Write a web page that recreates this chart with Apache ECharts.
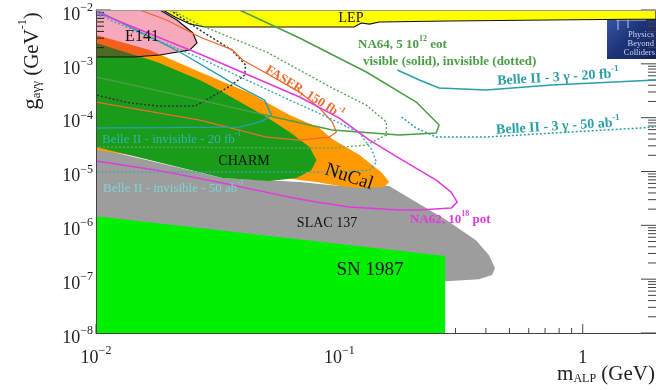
<!DOCTYPE html>
<html><head><meta charset="utf-8">
<script src="https://cdn.jsdelivr.net/npm/echarts@6/dist/echarts.min.js"></script>
<style>html,body{margin:0;padding:0;background:#fff}#c{width:656px;height:390px}</style>
</head><body><div id="c"></div>
<script>
// ---- axis ticks ----
const xMajorTicks = [0.01, 0.1, 1];
const xMinorTicks = [0.02,0.03,0.04,0.05,0.06,0.07,0.08,0.09,0.2,0.3,0.4,0.5,0.6,0.7,0.8,0.9];
const yMajorTicks = [1e-8,1e-7,1e-6,1e-5,1e-4,1e-3,1e-2];
const yMinorMultipliers = [2,3,4,5,6,7,8,9];
const yDecades = [1e-8,1e-7,1e-6,1e-5,1e-4,1e-3];

// ---- filled regions [m_ALP (GeV), g (GeV^-1)] ----
const slac137 = [[0.01,2.72e-5],[0.0331,7.54e-6],[0.0686,6.35e-6],[0.1,5.35e-6],[0.16,5.35e-6],[0.2,2.94e-6],[0.275,1.25e-6],[0.364,5.31e-7],[0.412,2.79e-7],[0.436,1.6e-7],[0.424,1.19e-7],[0.375,1.0e-7],[0.275,9.18e-8],[0.26,9.2e-8],[0.01,9.2e-8]];
const sn1987 = [[0.01,1.48e-6],[0.272,2.68e-7],[0.272,1e-8],[0.01,1e-8]];
const nucal = [[0.01,3.43e-3],[0.0166,1.81e-3],[0.0267,7.05e-4],[0.0428,2.87e-4],[0.0624,1.12e-4],[0.0828,6.41e-5],[0.0935,4.0e-5],[0.121,2.02e-5],[0.15,9.34e-6],[0.16,6.35e-6],[0.153,5.13e-6],[0.121,4.91e-6],[0.1,5.35e-6],[0.0805,6.35e-6],[0.0686,6.92e-6],[0.0267,1.32e-5],[0.01,2.5e-5]];
const charm = [[0.01,2.44e-3],[0.0178,1.08e-3],[0.0267,5.0e-4],[0.0331,2.99e-4],[0.0502,1.03e-4],[0.0624,5.4e-5],[0.0754,2.84e-5],[0.0805,1.63e-5],[0.0767,1.06e-5],[0.0667,7.54e-6],[0.0516,6.63e-6],[0.0331,7.54e-6],[0.0166,1.63e-5],[0.01,2.84e-5]];
const e141 = [[0.01,1e-2],[0.0183,1e-2],[0.0215,6.52e-3],[0.025,3.74e-3],[0.026,2.44e-3],[0.0243,1.81e-3],[0.0183,1.46e-3],[0.0142,1.34e-3],[0.01,1.34e-3]];
const lep = [[0.0188,1e-2],[2,1e-2],[2,6.81e-3],[0.726,6.52e-3],[0.282,6.25e-3],[0.146,5.98e-3],[0.133,5.49e-3],[0.123,5.73e-3],[0.115,4.83e-3],[0.028,4.83e-3],[0.0243,5.49e-3],[0.0211,7.41e-3],[0.0188,1e-2]];

// ---- projection curves ----
const na62 = [[0.01,9.18e-3],[0.0267,1.52e-3],[0.0686,2.42e-4],[0.1,9.84e-5],[0.133,3.84e-5],[0.176,1.77e-5],[0.25,6.92e-6],[0.288,4.14e-6],[0.305,2.7e-6],[0.288,2.09e-6],[0.213,1.92e-6],[0.176,1.92e-6],[0.11,2.18e-6],[0.0805,2.7e-6],[0.0624,3.34e-6],[0.0331,6.09e-6],[0.0178,1.06e-5],[0.01,1.56e-5]];
const belleInv20 = [[0.01,1e-2],[0.0221,1.66e-3],[0.0364,4.4e-4],[0.0493,2.12e-4],[0.0526,1.12e-4],[0.0483,8.65e-5],[0.0389,6.68e-5],[0.01,6.41e-5]];
const belleInv50 = [[0.01,8.43e-3],[0.0267,1.28e-3],[0.0624,2.12e-4],[0.091,9.84e-5],[0.121,5.17e-5],[0.136,2.5e-5],[0.142,1.5e-5],[0.133,1.06e-5],[0.1,9.75e-6],[0.01,9.75e-6]];
const na64Visible = [[0.0389,1e-2],[0.0686,3.02e-3],[0.129,7.05e-4],[0.207,1.95e-4],[0.257,7.28e-5],[0.25,5.17e-5],[0.176,4.75e-5],[0.0935,5.88e-5],[0.0516,1.07e-4],[0.0267,2.12e-4],[0.01,5.68e-4]];
const na64Invisible = [[0.0205,1e-2],[0.0267,5.26e-3],[0.0502,1.66e-3],[0.0935,3.55e-4],[0.129,1.71e-4],[0.156,8.28e-5],[0.156,4.75e-5],[0.129,3.1e-5],[0.0935,2.72e-5],[0.01,2.84e-5]];
const faser = [[0.0151,1e-2],[0.0195,6.52e-3],[0.0267,3.15e-3],[0.0364,1.81e-3],[0.04,1.18e-3],[0.0516,6.19e-4],[0.0686,2.99e-4],[0.0828,1.51e-4],[0.0935,8.28e-5],[0.0972,5.4e-5],[0.091,4.36e-5],[0.0686,3.84e-5],[0.0502,4.36e-5],[0.0267,9.02e-5],[0.01,1.95e-4]];
const e137Dotted = [[0.0201,1e-2],[0.0267,4.25e-3],[0.0361,1.81e-3],[0.0412,9.5e-4],[0.0408,6.19e-4],[0.0361,4.04e-4],[0.0293,2.31e-4],[0.0255,1.64e-4],[0.0183,1.64e-4],[0.0138,1.87e-4],[0.01,2.63e-4]];
const belle3g20 = [[0.173,7.67e-4],[0.213,5.0e-4],[0.257,3.55e-4],[0.4,3.26e-4],[0.746,4.04e-4],[2,5.0e-4]];
const belle3g50 = [[0.18,1.03e-4],[0.207,6.41e-5],[0.25,4.36e-5],[0.4,4.36e-5],[0.746,5.17e-5],[2,6.68e-5]];

const SERIF = 'Liberation Serif';
const chart = echarts.init(document.getElementById('c'), null, {renderer:'canvas'});

function polySeries(name, pts, style, z){
  return {type:'custom', name, coordinateSystem:'cartesian2d', xAxisIndex:0, yAxisIndex:0, clip:true, silent:true, z,
    data:[pts[0]],
    renderItem:function(params, api){
      return {type:'polygon', shape:{points: pts.map(p=>api.coord(p))}, style: Object.assign({}, style)};
    }};
}
function lineSeries(name, pts, style, z){
  return {type:'custom', name, coordinateSystem:'cartesian2d', xAxisIndex:0, yAxisIndex:0, clip:true, silent:true, z,
    data:[pts[0]],
    renderItem:function(params, api){
      return {type:'polyline', shape:{points: pts.map(p=>api.coord(p))}, style: Object.assign({fill:null, lineJoin:'round'}, style)};
    }};
}
function tickLines(api, color){
  const ch = [];
  const add=(a,dx,dy)=>ch.push({type:'line', shape:{x1:a[0],y1:a[1],x2:a[0]+dx,y2:a[1]+dy}, style:{stroke:color, lineWidth:1}});
  xMajorTicks.forEach(v=>add(api.coord([v,1e-8]),0,-9));
  xMinorTicks.forEach(v=>add(api.coord([v,1e-8]),0,-5));
  yMajorTicks.forEach(v=>{add(api.coord([0.01,v]),15,0); add(api.coord([2,v]),-15,0);});
  yDecades.forEach(d=>yMinorMultipliers.forEach(k=>{const v=d*k; add(api.coord([0.01,v]),8,0); add(api.coord([2,v]),-8,0);}));
  return ch;
}
const tickSeries = {type:'custom', name:'ticks', coordinateSystem:'cartesian2d', xAxisIndex:0, yAxisIndex:0, clip:false, silent:true, z:1,
  data:[[0.1,1e-5]],
  renderItem:function(params, api){ return {type:'group', children:tickLines(api,'#444')}; }};

// E141 overlaps (E141 is drawn as a multiplying overlay in the original)
const e141Overlap = {type:'custom', name:'E141 overlap', coordinateSystem:'cartesian2d', xAxisIndex:0, yAxisIndex:0, clip:true, silent:true, z:6,
  data:[e141[0]],
  renderItem:function(params, api){
    const c = e141.map(p=>api.coord(p));
    const children = [
      {type:'polygon', shape:{points: e141.map(p=>api.coord(p))}, style:{fill:'#f6a9bb'}},
      {type:'polygon', shape:{points: nucal.map(p=>api.coord(p))}, style:{fill:'#f2601c'}},
      {type:'polygon', shape:{points: charm.map(p=>api.coord(p))}, style:{fill:'#4d6a20'}}
    ].concat(tickLines(api,'#222'));
    return {type:'group', children:[
      {type:'group', children, clipPath:{type:'polygon', shape:{points:c}}},
      {type:'polygon', shape:{points:c}, style:{fill:null, stroke:'#111', lineWidth:1.2}}
    ]};
  }};

const labelRich = {
  b:{fontSize:18, fontFamily:SERIF, color:'#222', verticalAlign:'bottom', lineHeight:22},
  s:{fontSize:12, fontFamily:SERIF, color:'#222', verticalAlign:'top', lineHeight:12}
};
function powLabel(v){
  const e = Math.round(Math.log10(v));
  if (e === 0) return '{b|1}';
  return '{b|10}{s|\u2212' + (-e) + '}';
}

const teal = '#2a9fa8';
const na64c = '#4a9e44';

function txt(x,y,text,opt){
  opt = opt||{};
  return {type:'text', x, y, rotation:opt.rot||0, z:30,
    style:{text, fontFamily:SERIF, fontSize:opt.size||14, fill:opt.color||'#111', fontWeight:opt.weight||'normal', align:opt.align||'center', verticalAlign:'middle', rich:opt.rich}};
}
function supRich(color,size,weight){
  return {a:{fontFamily:SERIF, fontSize:size, fill:color, color:color, fontWeight:weight, verticalAlign:'bottom', lineHeight:size+3},
          s:{fontFamily:SERIF, fontSize:Math.round(size*0.65), fill:color, color:color, fontWeight:weight, verticalAlign:'top', lineHeight:Math.round(size*0.65)}};
}

const option = {
  backgroundColor:'#ffffff',
  animation:false,
  grid:{left:96, top:10, width:561.4, height:323, containLabel:false},
  xAxis:[
    {type:'log', logBase:10, min:0.01, max:2, position:'bottom', z:10,
     axisLine:{show:true, lineStyle:{color:'#444', width:1}}, axisTick:{show:false}, splitLine:{show:false}, minorTick:{show:false},
     axisLabel:{show:true, margin:12, showMaxLabel:false, formatter:powLabel, rich:labelRich, fontFamily:SERIF, fontSize:18, color:'#222'}},
    {type:'log', logBase:10, min:0.01, max:2, position:'top', z:10,
     axisLine:{show:true, lineStyle:{color:'#999', width:1}}, axisTick:{show:false}, splitLine:{show:false}, axisLabel:{show:false}}
  ],
  yAxis:[
    {type:'log', logBase:10, min:1e-8, max:1e-2, position:'left', z:10,
     axisLine:{show:true, lineStyle:{color:'#444', width:1}}, axisTick:{show:false}, splitLine:{show:false}, minorTick:{show:false},
     axisLabel:{show:true, margin:3, padding:[6,0,0,0], formatter:powLabel, rich:labelRich, fontFamily:SERIF, fontSize:18, color:'#222'}},
    {type:'log', logBase:10, min:1e-8, max:1e-2, position:'right', z:10,
     axisLine:{show:true, lineStyle:{color:'#666', width:1}}, axisTick:{show:false}, splitLine:{show:false}, axisLabel:{show:false}}
  ],
  series:[
    tickSeries,
    polySeries('SLAC 137', slac137, {fill:'#9d9d9d'}, 2),
    polySeries('SN 1987', sn1987, {fill:'#00f000'}, 3),
    polySeries('NuCal', nucal, {fill:'#ff9a00'}, 4),
    polySeries('CHARM', charm, {fill:'#1a9b1a'}, 5),
    e141Overlap,
    polySeries('LEP', lep, {fill:'#ffff00', stroke:'#111', lineWidth:1.2}, 7),
    lineSeries('E137 dotted', e137Dotted, {stroke:'#333', lineWidth:1.5, lineDash:[2,2]}, 8),
    lineSeries('FASER', faser, {stroke:'#ee6a30', lineWidth:1.3}, 8),
    lineSeries('NA64 visible', na64Visible, {stroke:na64c, lineWidth:1.5}, 8),
    lineSeries('NA64 invisible', na64Invisible, {stroke:'#5aaa55', lineWidth:1.4, lineDash:[2,2]}, 8),
    lineSeries('Belle II inv 20', belleInv20, {stroke:teal, lineWidth:1.4}, 8),
    lineSeries('Belle II inv 50', belleInv50, {stroke:'#3aa8b8', lineWidth:1.4, lineDash:[2,2]}, 8),
    lineSeries('NA62', na62, {stroke:'#e03ae0', lineWidth:1.5}, 9),
    lineSeries('Belle II 3g 20', belle3g20, {stroke:teal, lineWidth:1.5}, 8),
    lineSeries('Belle II 3g 50', belle3g50, {stroke:teal, lineWidth:1.5, lineDash:[2,2]}, 8)
  ],
  graphic:[
    txt(351,18,'LEP',{size:14}),
    txt(142,37,'E141',{size:16}),
    txt(244,161,'CHARM',{size:14}),
    txt(349,177,'NuCal',{size:19, rot:-0.32}),
    txt(327,223,'SLAC 137',{size:14}),
    txt(370,270,'SN 1987',{size:19}),
    txt(410,218,'{a|NA62, 10}{s|18}{a| pot}',{align:'left', rich:supRich('#e03ae0',13,'bold')}),
    txt(305,91,'{a|FASER, 150 fb}{s|-1}',{rot:-0.56, rich:supRich('#ee6a30',13,'bold')}),
    txt(358,43,'{a|NA64, 5 10}{s|12}{a| eot}',{align:'left', rich:supRich(na64c,13,'bold')}),
    txt(363,60,'{a|visible (solid), invisible (dotted)}',{align:'left', rich:supRich(na64c,13,'bold')}),
    txt(558,76,'{a|Belle II - 3 \u03b3 - 20 fb}{s|-1}',{rot:0.06, rich:supRich(teal,14,'bold')}),
    txt(558,125,'{a|Belle II - 3 \u03b3 - 50 ab}{s|-1}',{rot:0.06, rich:supRich(teal,14,'bold')}),
    txt(102,138,'{a|Belle II - invisible - 20 fb}{s|-1}',{align:'left', rich:supRich('#33b3b3',13,'normal')}),
    txt(103,187,'{a|Belle II - invisible - 50 ab}{s|-1}',{align:'left', rich:supRich('#7fd3d8',13,'normal')}),
    // axis titles
    {type:'text', x:30, y:61, rotation:Math.PI/2, z:30,
     style:{text:'{g|g}{sub|a\u03b3\u03b3}{t| (GeV}{sup|-1}{t|)}', align:'center', verticalAlign:'middle',
       rich:{g:{fontFamily:SERIF, fontSize:23, fill:'#222', color:'#222', verticalAlign:'bottom', lineHeight:26},
             sub:{fontFamily:SERIF, fontSize:13, fill:'#222', color:'#222', verticalAlign:'bottom', lineHeight:18},
             t:{fontFamily:SERIF, fontSize:21, fill:'#222', color:'#222', verticalAlign:'bottom', lineHeight:26},
             sup:{fontFamily:SERIF, fontSize:12, fill:'#222', color:'#222', verticalAlign:'top', lineHeight:14}}}},
    {type:'text', x:655, y:373, z:30,
     style:{text:'{m|m}{sub|ALP}{t| (GeV)}', align:'right', verticalAlign:'middle',
       rich:{m:{fontFamily:SERIF, fontSize:21, fill:'#222', color:'#222', verticalAlign:'bottom', lineHeight:24},
             sub:{fontFamily:SERIF, fontSize:12, fill:'#222', color:'#222', verticalAlign:'bottom', lineHeight:16},
             t:{fontFamily:SERIF, fontSize:21, fill:'#222', color:'#222', verticalAlign:'bottom', lineHeight:24}}}},
    // logo
    {type:'group', z:30, children:[
      {type:'rect', shape:{x:607, y:11, width:49, height:48}, style:{fill:new echarts.graphic.LinearGradient(0,0,1,1,[{offset:0,color:'#3a5cae'},{offset:0.5,color:'#1e3478'},{offset:1,color:'#14245a'}])}},
      {type:'line', shape:{x1:612,y1:16,x2:652,y2:16}, style:{stroke:'#b8c8f0', lineWidth:1}},
      {type:'line', shape:{x1:616,y1:20,x2:646,y2:20}, style:{stroke:'#b8c8f0', lineWidth:1}},
      {type:'line', shape:{x1:618,y1:14,x2:618,y2:30}, style:{stroke:'#b8c8f0', lineWidth:1}},
      {type:'line', shape:{x1:628,y1:18,x2:628,y2:28}, style:{stroke:'#b8c8f0', lineWidth:1}},
      {type:'text', x:654, y:35, style:{text:'Physics', align:'right', verticalAlign:'middle', fontFamily:SERIF, fontSize:8.5, fill:'#c8d4f8'}},
      {type:'text', x:654, y:44, style:{text:'Beyond', align:'right', verticalAlign:'middle', fontFamily:SERIF, fontSize:8.5, fill:'#c8d4f8'}},
      {type:'text', x:655, y:53, style:{text:'Colliders', align:'right', verticalAlign:'middle', fontFamily:SERIF, fontSize:8.5, fill:'#c8d4f8'}}
    ]}
  ]
};
chart.setOption(option);
</script></body></html>
